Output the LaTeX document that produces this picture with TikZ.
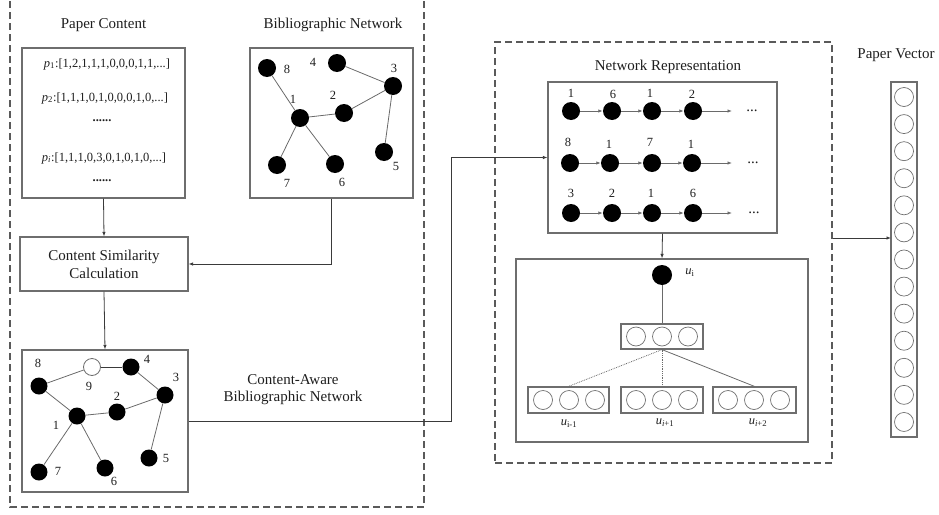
\documentclass[tikz,border=0pt]{standalone}
\usepackage{fontspec}
\setmainfont{Liberation Serif}
\usepackage{xcolor}
\usepackage{tikz}
\definecolor{frameGray}{HTML}{5A5A5A}
\definecolor{boxGray}{HTML}{6E6E6E}
\definecolor{edgeGray}{HTML}{6A6A6A}
\definecolor{arrowInk}{HTML}{3A3A3A}
\definecolor{textInk}{HTML}{1E1E1E}
\usetikzlibrary{arrows.meta,calc}

\begin{document}
\begin{tikzpicture}[
  x=1pt, y=-1pt,
  font=\fontsize{15}{18}\selectfont,
  text=textInk,
  >=Latex,
  dashframe/.style={draw=frameGray, line width=1.2pt, dash pattern=on 7pt off 4pt},
  panel/.style={draw=boxGray, line width=1.2pt, inner sep=0pt},
  dot/.style={circle, fill=black, inner sep=0pt, minimum size=18pt},
  hollow/.style={circle, draw=boxGray, fill=white, line width=0.8pt, inner sep=0pt, minimum size=18pt},
  cell/.style={circle, draw=boxGray, line width=0.7pt, inner sep=0pt, minimum size=19pt},
  num/.style={font=\fontsize{12.5}{13}\selectfont, inner sep=0pt},
  row/.style={font=\fontsize{12.5}{13}\selectfont, inner sep=0pt},
  link/.style={draw=edgeGray, line width=0.8pt},
  flow/.style={-{Latex[length=4.5pt,width=3.5pt]}, draw=arrowInk, line width=0.8pt},
  chain/.style={-{Latex[length=4.5pt,width=3.5pt]}, draw=edgeGray, line width=0.8pt}
]
\useasboundingbox (0,0) rectangle (939,514);

% Left stage: content + citation graph
\draw[dashframe] (10,-10) rectangle (424,507);

\node (pctitle) at (103.5,25) {Paper Content};
\node[panel, minimum width=163pt, minimum height=150pt] (content) at (103.5,123) {};
\node[row] (p1) at (107,64) {\textit{p}\textsubscript{1}:[1,2,1,1,1,0,0,0,1,1,...]};
\node[row] (p2) at (105,98) {\textit{p}\textsubscript{2}:[1,1,1,0,1,0,0,0,1,0,...]};
\node[row] (pdots1) at (102,121) {\textbf{......}};
\node[row] (pi) at (104,158) {\textit{p}\textsubscript{\textit{i}}:[1,1,1,0,3,0,1,0,1,0,...]};
\node[row] (pdots2) at (102,181) {\textbf{......}};

\node (bntitle) at (333,25) {Bibliographic Network};
\node[panel, minimum width=163pt, minimum height=150pt] (bibbox) at (331.5,123) {};
\node[dot] (b1) at (300,118) {};
\node[dot] (b2) at (344,113) {};
\node[dot] (b3) at (393,86) {};
\node[dot] (b4) at (337,63) {};
\node[dot] (b5) at (384,152) {};
\node[dot] (b6) at (335,164) {};
\node[dot] (b7) at (277,165) {};
\node[dot] (b8) at (267,68) {};
\node[num] (bl1) at (293,99) {1};
\node[num] (bl2) at (333,95) {2};
\node[num] (bl3) at (394,68) {3};
\node[num] (bl4) at (313,62) {4};
\node[num] (bl5) at (396,166) {5};
\node[num] (bl6) at (342,182) {6};
\node[num] (bl7) at (287,183) {7};
\node[num] (bl8) at (287,69) {8};
\draw[link] (b8) -- (b1) -- (b2) -- (b3) -- (b4);
\draw[link] (b3) -- (b5);
\draw[link] (b1) -- (b7);
\draw[link] (b1) -- (b6);

\node[panel, minimum width=168pt, minimum height=54pt, align=center] (simcalc) at (104,264)
  {Content Similarity\\Calculation};

\node[panel, minimum width=166pt, minimum height=142pt] (cabox) at (105,421) {};
\node[dot, minimum size=17pt] (c1) at (77,416) {};
\node[dot, minimum size=17pt] (c2) at (117,412) {};
\node[dot, minimum size=17pt] (c3) at (165,395) {};
\node[dot, minimum size=17pt] (c4) at (131,367) {};
\node[dot, minimum size=17pt] (c5) at (149,458) {};
\node[dot, minimum size=17pt] (c6) at (105,468) {};
\node[dot, minimum size=17pt] (c7) at (39,472) {};
\node[dot, minimum size=17pt] (c8) at (39,386) {};
\node[hollow, minimum size=17pt] (c9) at (92,367) {};
\node[num] (cl1) at (56,425) {1};
\node[num] (cl2) at (117,396) {2};
\node[num] (cl3) at (176,377) {3};
\node[num] (cl4) at (147,359) {4};
\node[num] (cl5) at (166,458) {5};
\node[num] (cl6) at (114,481) {6};
\node[num] (cl7) at (58,471) {7};
\node[num] (cl8) at (38,363) {8};
\node[num] (cl9) at (89,386) {9};
\draw[link] (c8) -- (c9);
\draw[link, draw=arrowInk] (c9) -- (c4);
\draw[link] (c4) -- (c3) -- (c2) -- (c1) -- (c8);
\draw[link] (c3) -- (c5);
\draw[link] (c1) -- (c7);
\draw[link] (c1) -- (c6);

\node[align=center, font=\fontsize{15}{17}\selectfont] (calabel) at (293,390)
  {Content-Aware\\Bibliographic Network};

% Right stage: walks + skip-gram
\node[dashframe, minimum width=337pt, minimum height=421pt] (nrframe) at (663.5,252.5) {};
\node (nrtitle) at (668,67) {Network Representation};
\node[panel, minimum width=229pt, minimum height=151pt] (nrbox) at (662.5,157.5) {};

\node[dot] (r11) at (571,111) {};
\node[dot] (r12) at (612,111) {};
\node[dot] (r13) at (652,111) {};
\node[dot] (r14) at (693,111) {};
\node[dot] (r21) at (570,163) {};
\node[dot] (r22) at (610,163) {};
\node[dot] (r23) at (652,163) {};
\node[dot] (r24) at (692,163) {};
\node[dot] (r31) at (571,213) {};
\node[dot] (r32) at (612,213) {};
\node[dot] (r33) at (652,213) {};
\node[dot] (r34) at (693,213) {};
\node[num] (rl11) at (571,93) {1};
\node[num] (rl12) at (613,94) {6};
\node[num] (rl13) at (650,93) {1};
\node[num] (rl14) at (692,94) {2};
\node[num] (rl21) at (568,142) {8};
\node[num] (rl22) at (609,144) {1};
\node[num] (rl23) at (650,142) {7};
\node[num] (rl24) at (691,144) {1};
\node[num] (rl31) at (571,193) {3};
\node[num] (rl32) at (612,193) {2};
\node[num] (rl33) at (651,193) {1};
\node[num] (rl34) at (693,193) {6};
\coordinate (r1end) at (732,111);
\coordinate (r2end) at (732,163);
\coordinate (r3end) at (732,213);
\node (r1more) at (752,111) {...};
\node (r2more) at (753,163) {...};
\node (r3more) at (754,213) {...};
\foreach \r in {1,2,3} {
  \draw[chain] (r\r1) -- (r\r2);
  \draw[chain] (r\r2) -- (r\r3);
  \draw[chain] (r\r3) -- (r\r4);
  \draw[chain] (r\r4) -- (r\r end);
}

\node[panel, minimum width=292pt, minimum height=183pt] (lowbox) at (662,350.5) {};
\node[dot, minimum size=20pt] (ui) at (662,275) {};
\node[num] (uilab) at (690,273) {\textit{u}\textsubscript{i}};
\node[panel, minimum width=82pt, minimum height=25pt] (hid) at (662,336.5) {};
\foreach \x in {636,662,688} \node[cell] (h\x) at (\x,336.5) {};

\node[panel, minimum width=81pt, minimum height=26pt] (ctx1) at (568.5,400) {};
\node[panel, minimum width=82pt, minimum height=26pt] (ctx2) at (662,400) {};
\node[panel, minimum width=83pt, minimum height=26pt] (ctx3) at (754.5,400) {};
\foreach \x in {543,569,595,636,662,688,728,754,780} \node[cell] (k\x) at (\x,400) {};
\node[num] (ulab1) at (569,424) {\textit{u}\textsubscript{i-1}};
\node[num] (ulab2) at (665,423) {\textit{u}\textsubscript{\textit{i}+1}};
\node[num] (ulab3) at (758,423) {\textit{u}\textsubscript{\textit{i}+2}};

\draw[link] (ui) -- (hid.north);
\draw[link, densely dotted] (hid.south) -- (ctx1.north);
\draw[link, densely dotted] (hid.south) -- (ctx2.north);
\draw[link] (hid.south) -- (ctx3.north);

% Output embedding
\node (pvtitle) at (896,55) {Paper Vector};
\node[panel, minimum width=26pt, minimum height=355pt] (pvec) at (904,259.5) {};
\foreach \k in {0,...,12} \node[cell] (v\k) at (904,{97+27.08*\k}) {};

% Flow between stages
\coordinate (turn) at (451,157.5);
\coordinate (vecin) at (891,238);
\draw[flow] (content.south) -- (simcalc.north);
\draw[flow] (bibbox.south) |- (simcalc.east);
\draw[flow] (simcalc.south) -- (cabox.north);
\draw[flow] (cabox.east) -| (turn) -- (nrbox.west);
\draw[flow] (nrbox.south) -- (lowbox.north);
\draw[flow] (nrframe.east |- vecin) -- (vecin);

\end{tikzpicture}
\end{document}
